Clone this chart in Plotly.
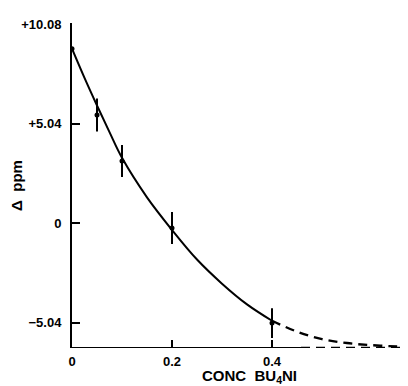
import plotly.graph_objects as go

# Measured data points with error bars
pt_x = [0.0, 0.05, 0.1, 0.2, 0.4]
pt_y = [8.83, 5.47, 3.14, -0.25, -5.07]
pt_err = [0.0, 0.84, 0.81, 0.81, 0.75]

# Fitted curve (solid part)
curve_x = [0.0, 0.025, 0.05, 0.075, 0.1, 0.15, 0.2, 0.25, 0.3, 0.35, 0.4]
curve_y = [8.83, 7.35, 5.95, 4.6, 3.3, 1.3, -0.35, -1.85, -3.07, -4.12, -4.95]

# Extrapolated curve (dashed part)
ext_x = [0.4, 0.45, 0.5, 0.55, 0.6, 0.65, 0.69]
ext_y = [-4.95, -5.5, -5.88, -6.08, -6.19, -6.25, -6.28]

tick_vals = [10.08, 5.04, 0, -5.04]
tick_text = ["+10.08", "+5.04", "0", "\u22125.04"]
x_tick_vals = [0, 0.2, 0.4]
x_tick_text = ["0", "0.2", "0.4"]

YMIN, YMAX = -6.33, 10.13
XMIN, XMAX = 0.0, 0.688

font = dict(family="Liberation Sans, Arial, sans-serif", size=13, color="black", weight="bold")
title_font = dict(family="Liberation Sans, Arial, sans-serif", size=15, color="black", weight="bold")

fig = go.Figure()
fig.add_trace(go.Scatter(x=curve_x, y=curve_y, mode="lines",
                         line=dict(color="black", width=2, shape="spline"), hoverinfo="skip"))
fig.add_trace(go.Scatter(x=ext_x, y=ext_y, mode="lines",
                         line=dict(color="black", width=2.4, dash="9px,6px", shape="spline"),
                         hoverinfo="skip"))
fig.add_trace(go.Scatter(x=pt_x, y=pt_y, mode="markers",
                         marker=dict(color="black", size=5),
                         error_y=dict(type="data", array=pt_err, visible=True,
                                      color="black", thickness=2, width=0)))

# x-axis baseline: solid then dashed continuation
fig.add_shape(type="line", xref="x", yref="y", x0=0, x1=0.458, y0=YMIN, y1=YMIN,
              line=dict(color="black", width=2))
fig.add_shape(type="line", xref="x", yref="y", x0=0.458, x1=XMAX, y0=YMIN, y1=YMIN,
              line=dict(color="black", width=2.4, dash="9px,6px"))

# x-axis title as annotation for precise placement
fig.add_annotation(text="CONC  BU<sub>4</sub>NI", xref="paper", yref="paper",
                   x=0.515, y=0, yshift=-28, xanchor="center", yanchor="middle",
                   showarrow=False, font=title_font)

fig.update_layout(
    width=408, height=386,
    margin=dict(l=64, r=0, t=15, b=46),
    paper_bgcolor="white", plot_bgcolor="white",
    showlegend=False,
    font=font,
    xaxis=dict(range=[XMIN, XMAX], showgrid=False, zeroline=False, showline=False,
               tickvals=x_tick_vals, ticktext=x_tick_text, ticks="inside",
               ticklen=8, tickwidth=2, tickcolor="black", tickfont=font,
               ticklabelstandoff=4),
    yaxis=dict(range=[YMIN, YMAX], showgrid=False, zeroline=False, showline=True,
               linecolor="black", linewidth=2,
               tickvals=tick_vals, ticktext=tick_text, ticks="inside",
               ticklen=8, tickwidth=2, tickcolor="black", tickfont=font,
               ticklabelstandoff=6,
               title=dict(text="\u0394  ppm", font=title_font, standoff=2)),
)

fig.write_html("out.html")
